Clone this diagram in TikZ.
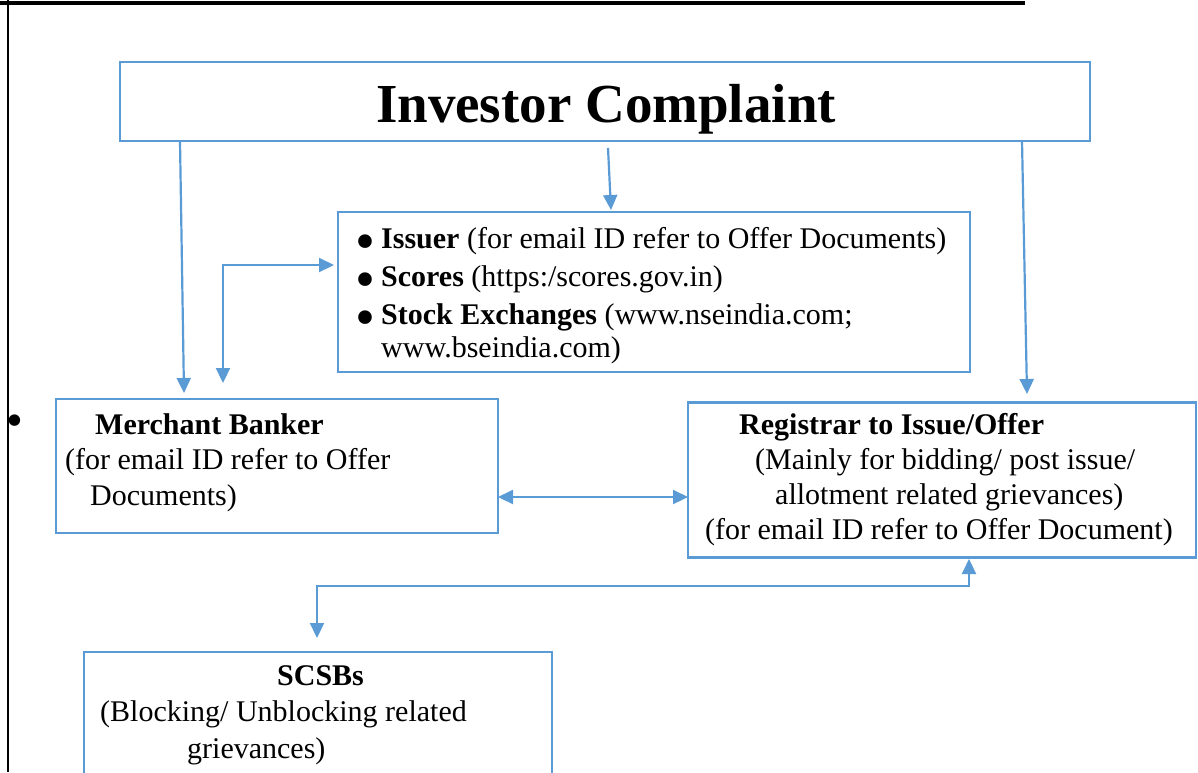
\documentclass[tikz,border=0pt]{standalone}
\usepackage{fontspec}
\setmainfont{Liberation Serif}
\usetikzlibrary{arrows.meta}
\definecolor{lineblue}{HTML}{5B9BD5}
\newcommand{\bigbul}{\smash{\raisebox{-12pt}{\scalebox{1.9}{\textbullet}}}}
\tikzset{
  box/.style={draw=lineblue, line width=2.2pt, inner sep=0pt},
  txt/.style={inner sep=0pt, align=left, anchor=base west, font=\fontsize{30}{36}\selectfont},
  arr/.style={draw=lineblue, line width=2.2pt, -{Triangle[length=15pt,width=14pt]}},
  dblarr/.style={arr, {Triangle[length=15pt,width=14pt]}-{Triangle[length=15pt,width=14pt]}}
}
\begin{document}
\begin{tikzpicture}[x=1pt, y=-1pt]
    \clip (0,0) rectangle (1198,772);
    \fill (0,1) rectangle (1025,5);
    \fill (7,0) rectangle (9,772);
    \node[inner sep=0pt, font=\fontsize{30}{36}\selectfont] (stray) at (15,426) {\scalebox{1.6}{\textbullet}};

    % Boxes
    \node[box, minimum width=970pt, minimum height=79pt] (title) at (605,101.5) {};
    \node[inner sep=0pt, anchor=base, font=\fontsize{55}{60}\selectfont\bfseries] (titletxt) at (606,122) {Investor Complaint};
    \node[box, minimum width=632pt, minimum height=160pt] (contacts) at (654,292) {};
    \node[box, minimum width=442pt, minimum height=134pt] (merchant) at (277,466) {};
    \node[box, minimum width=508pt, minimum height=155pt] (registrar) at (942,480) {};
    \node[box, minimum width=468pt, minimum height=148pt] (scsb) at (318,726) {};

    % Texts (base = last line)
    \node[txt, font=\fontsize{30}{32.5}\selectfont] (contactstxt) at (355,357) {\makebox[26pt][l]{\bigbul}\textbf{Issuer} (for email ID refer to Offer Documents)\\[5.5pt]
        \makebox[26pt][l]{\bigbul}\textbf{Scores} (https:/scores.gov.in)\\[5.5pt]
        \makebox[26pt][l]{\bigbul}\textbf{Stock Exchanges} (www.nseindia.com;\\
        \hspace*{26pt}www.bseindia.com)};
    \node[txt, font=\fontsize{30}{35.5}\selectfont] (merchanttxt) at (65,505) {\hspace*{30pt}\textbf{Merchant Banker}\\
        (for email ID refer to Offer\\
        \hspace*{25pt}Documents)};
    \node[txt, font=\fontsize{30}{34.7}\selectfont] (registrartxt) at (705,539) {\hspace*{34pt}\textbf{Registrar to Issue/Offer}\\
        \hspace*{50pt}(Mainly for bidding/ post issue/\\
        \hspace*{70pt}allotment related grievances)\\
        (for email ID refer to Offer Document)};
    \node[txt, font=\fontsize{30}{36.5}\selectfont] (scsbtxt) at (100,758) {\hspace*{177pt}\textbf{SCSBs}\\
        (Blocking/ Unblocking related\\
        \hspace*{87pt}grievances)};

    % Connections
    \coordinate (t1) at (180,141); \coordinate (m1) at (184,393);
    \coordinate (t2) at (608,148); \coordinate (c1) at (611,210);
    \coordinate (t3) at (1022,141); \coordinate (r1) at (1027,394);
    \coordinate (m2) at (223,383); \coordinate (c2) at (334,265);
    \coordinate (m3) at (498,497); \coordinate (r2) at (688,497);
    \coordinate (r3) at (969,559); \coordinate (s1) at (317,638);
    \coordinate (s2) at (317,586);

    \draw[arr] (t1) -- (m1);
    \draw[arr] (t2) -- (c1);
    \draw[arr] (t3) -- (r1);
    \draw[dblarr] (m2) |- (c2);
    \draw[dblarr] (m3) -- (r2);
    \draw[dblarr] (r3) |- (s2) -- (s1);
\end{tikzpicture}
\end{document}
